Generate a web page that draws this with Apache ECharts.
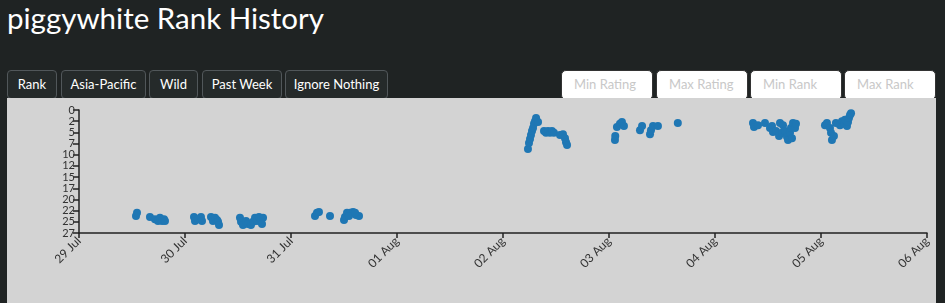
<!DOCTYPE html>
<html>
<head>
<meta charset="utf-8">
<script src="https://cdn.jsdelivr.net/npm/echarts@6/dist/echarts.min.js"></script>
<style>
  html,body{margin:0;padding:0;background:#1f2323;width:945px;height:303px;overflow:hidden;font-family:Lato,"Open Sans",sans-serif;}
  #title{position:absolute;left:7px;top:0px;color:#fff;font-size:29.5px;font-family:Lato,sans-serif;white-space:nowrap;}
  .btn{position:absolute;top:70px;height:29px;box-sizing:border-box;border:1px solid #51575a;border-radius:4px;background:#252a2a;color:#fff;font-size:13px;line-height:27px;text-align:center;font-family:Lato,sans-serif;}
  .inp{position:absolute;top:70px;height:30px;box-sizing:border-box;border:1px solid #333;border-radius:5px;background:#fff;color:#c8c8c8;font-size:13px;line-height:27px;padding-left:12px;font-family:Lato,sans-serif;}
  #chart{position:absolute;left:7px;top:98px;width:929px;height:205px;}
</style>
</head>
<body>
<div id="title">piggywhite Rank History</div>
<div class="btn" style="left:7px;width:50px;">Rank</div>
<div class="btn" style="left:61px;width:85px;">Asia-Pacific</div>
<div class="btn" style="left:149px;width:49px;">Wild</div>
<div class="btn" style="left:202px;width:80px;">Past Week</div>
<div class="btn" style="left:285px;width:103px;">Ignore Nothing</div>
<div class="inp" style="left:561px;width:92px;">Min Rating</div>
<div class="inp" style="left:656px;width:92px;">Max Rating</div>
<div class="inp" style="left:750px;width:92px;">Min Rank</div>
<div class="inp" style="left:844px;width:92px;">Max Rank</div>
<div id="chart"></div>
<script>
const times = [
  "2023-07-29 12:54","2023-07-29 13:08","2023-07-29 16:04","2023-07-29 17:12","2023-07-29 17:53",
  "2023-07-29 18:20","2023-07-29 18:48","2023-07-29 19:15","2023-07-29 19:28",
  "2023-07-30 02:02","2023-07-30 02:16","2023-07-30 02:56","2023-07-30 03:37","2023-07-30 03:51",
  "2023-07-30 05:53","2023-07-30 06:20","2023-07-30 06:48","2023-07-30 07:15","2023-07-30 07:29","2023-07-30 07:42",
  "2023-07-30 12:27","2023-07-30 12:41","2023-07-30 13:08","2023-07-30 13:49","2023-07-30 14:16","2023-07-30 14:56",
  "2023-07-30 15:24","2023-07-30 15:51","2023-07-30 16:18","2023-07-30 16:45","2023-07-30 17:12","2023-07-30 17:40","2023-07-30 17:26",
  "2023-07-31 05:26","2023-07-31 05:53","2023-07-31 06:20","2023-07-31 08:50","2023-07-31 12:00","2023-07-31 12:13",
  "2023-07-31 12:41","2023-07-31 13:22","2023-07-31 14:02","2023-07-31 14:43","2023-07-31 15:24","2023-07-31 13:08","2023-07-31 14:30",
  "2023-08-02 05:39","2023-08-02 05:53","2023-08-02 06:07","2023-08-02 06:20","2023-08-02 06:34","2023-08-02 06:48",
  "2023-08-02 07:01","2023-08-02 07:15","2023-08-02 07:29","2023-08-02 07:56","2023-08-02 09:17","2023-08-02 09:44",
  "2023-08-02 10:11","2023-08-02 10:38","2023-08-02 11:05","2023-08-02 11:32","2023-08-02 12:54","2023-08-02 13:35",
  "2023-08-02 14:02","2023-08-02 14:16","2023-08-02 14:30",
  "2023-08-03 01:21","2023-08-03 01:25","2023-08-03 01:48","2023-08-03 02:29","2023-08-03 02:56","2023-08-03 03:23",
  "2023-08-03 07:01","2023-08-03 07:29","2023-08-03 09:17","2023-08-03 09:30","2023-08-03 09:58","2023-08-03 11:05","2023-08-03 15:35",
  "2023-08-04 08:36","2023-08-04 08:50","2023-08-04 09:44","2023-08-04 11:19","2023-08-04 12:27","2023-08-04 12:54",
  "2023-08-04 13:08","2023-08-04 13:49","2023-08-04 14:30","2023-08-04 14:43","2023-08-04 15:11","2023-08-04 15:24",
  "2023-08-04 15:51","2023-08-04 16:18","2023-08-04 16:32","2023-08-04 16:59","2023-08-04 17:12","2023-08-04 17:40",
  "2023-08-04 18:07","2023-08-04 18:20","2023-08-04 17:26",
  "2023-08-05 00:54","2023-08-05 01:21","2023-08-05 02:02","2023-08-05 02:16","2023-08-05 02:29","2023-08-05 02:56",
  "2023-08-05 03:23","2023-08-05 04:18","2023-08-05 04:45","2023-08-05 05:12","2023-08-05 05:26","2023-08-05 05:53",
  "2023-08-05 06:07","2023-08-05 06:20","2023-08-05 06:34","2023-08-05 06:48"
];
const ranks = [
  23.7,23.0,23.9,24.4,24.8,24.1,24.8,24.4,24.8,
  23.9,24.8,24.4,23.9,24.8,23.9,24.8,24.1,24.6,25.0,25.7,
  24.1,25.0,25.7,24.8,25.5,25.7,25.0,24.1,24.8,23.9,24.6,24.1,25.5,
  23.7,23.0,22.8,23.7,24.6,23.9,23.0,23.0,22.8,23.5,23.7,23.7,23.0,
  8.7,7.4,6.5,5.6,4.7,4.0,3.1,2.5,1.8,2.7,4.7,5.1,4.7,5.1,4.7,5.1,5.6,5.4,6.3,7.2,7.8,
  6.7,5.8,3.8,3.1,2.7,3.6,4.5,3.6,5.4,4.5,3.6,3.6,2.9,
  2.9,3.8,3.4,2.9,4.0,3.6,4.9,4.7,5.8,2.9,5.1,3.4,4.7,6.0,6.7,5.1,4.0,2.9,4.0,3.1,6.3,
  3.4,2.9,4.0,5.1,6.7,5.8,2.9,3.4,2.5,3.1,2.2,3.6,2.7,1.8,1.1,0.7
];
const xStart = "2023-07-29 00:00";
const xEnd = "2023-08-06 00:00";
const yMin = 0, yMax = 27.5, yStep = 2.5;
const monthNames = ["Jan","Feb","Mar","Apr","May","Jun","Jul","Aug","Sep","Oct","Nov","Dec"];

function parseT(s){
  const [d,t] = s.split(" ");
  const [Y,M,D] = d.split("-").map(Number);
  const [h,m] = t.split(":").map(Number);
  return new Date(Y, M-1, D, h, m).getTime();
}
const DAY = 86400000;
const chart = echarts.init(document.getElementById('chart'));
chart.setOption({
  backgroundColor: '#d3d3d3',
  animation: false,
  grid: {left: 72, right: 9, top: 12, bottom: 70, containLabel: false},
  xAxis: {
    type: 'time',
    min: parseT(xStart), max: parseT(xEnd),
    minInterval: DAY, maxInterval: DAY, splitNumber: 8,
    axisLine: {show: true, onZero: false, lineStyle: {color: '#222', width: 1.5}},
    axisTick: {show: true, length: 5, lineStyle: {color: '#222', width: 1.5}},
    splitLine: {show: false},
    axisLabel: {
      rotate: 45, color: '#333', fontSize: 12, fontFamily: 'Lato', margin: 6,
      showMinLabel: true, showMaxLabel: true, hideOverlap: false,
      formatter: function(v){ const d = new Date(v); return String(d.getDate()).padStart(2,'0') + ' ' + monthNames[d.getMonth()]; }
    }
  },
  yAxis: {
    type: 'value', inverse: true, min: yMin, max: yMax, interval: yStep,
    axisLine: {show: true, onZero: false, lineStyle: {color: '#222', width: 1.5}},
    axisTick: {show: true, length: 6, lineStyle: {color: '#222', width: 1.5}},
    splitLine: {show: false},
    axisLabel: {color: '#333', fontSize: 11, fontFamily: 'Lato', margin: 4,
      showMinLabel: true, showMaxLabel: true, hideOverlap: false,
      formatter: function(v){ return String(Math.floor(v)); }}
  },
  series: [{
    type: 'scatter',
    symbolSize: 8,
    itemStyle: {color: '#1f77b4', opacity: 1},
    data: times.map((t,i) => [parseT(t), ranks[i]])
  }]
});
</script>
</body>
</html>
